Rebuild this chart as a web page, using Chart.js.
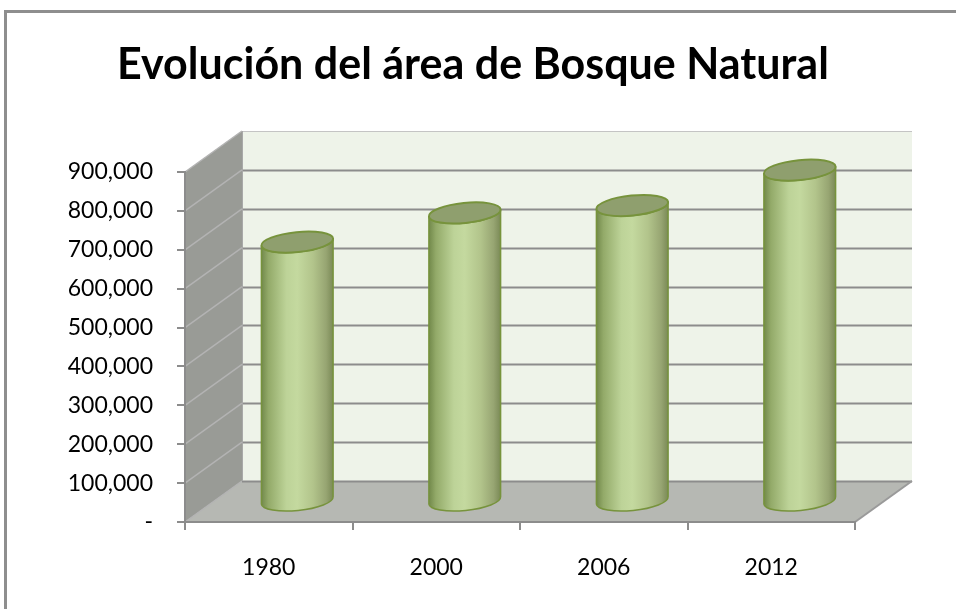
<!DOCTYPE html>
<html>
<head>
<meta charset="utf-8">
<title>Evolución del área de Bosque Natural</title>
<script src="https://cdn.jsdelivr.net/npm/chart.js@4.4.1/dist/chart.umd.min.js"></script>
<style>
  html, body { margin: 0; padding: 0; background: #fff; overflow: hidden; }
  canvas { display: block; }
</style>
</head>
<body>
<canvas id="areaChart" width="956" height="609"></canvas>
<script>
// --- data ---
const years = ['1980', '2000', '2006', '2012'];
const forestArea = [667000, 742000, 761000, 852000];
const yTickValues = [0, 100000, 200000, 300000, 400000, 500000, 600000, 700000, 800000, 900000];

// depth of the fake 3D box (pixels)
const DX = 57, DY = 41;
const GRID = '#8c8c8c';

// walls, floor and the outer frame, painted before the scales
const box3d = {
  id: 'box3d',
  beforeDraw(chart) {
    const ctx = chart.ctx;
    const { left, right } = chart.chartArea;
    const ys = chart.scales.y;
    const y0 = ys.getPixelForValue(ys.min);
    const yTop = ys.getPixelForValue(ys.max);

    ctx.save();
    ctx.fillStyle = '#fff';
    ctx.fillRect(0, 0, chart.width, chart.height);

    // outer frame (cut by the window on the right and bottom)
    ctx.strokeStyle = '#8e8e8e';
    ctx.lineWidth = 3;
    ctx.beginPath();
    ctx.moveTo(5.5, chart.height + 5);
    ctx.lineTo(5.5, 11.5);
    ctx.lineTo(chart.width + 5, 11.5);
    ctx.stroke();

    // back wall
    ctx.fillStyle = '#eef3e9';
    ctx.fillRect(left + DX, yTop - DY, right - left, y0 - yTop);

    // side wall
    ctx.fillStyle = '#999b96';
    ctx.beginPath();
    ctx.moveTo(left, yTop);
    ctx.lineTo(left + DX, yTop - DY);
    ctx.lineTo(left + DX, y0 - DY);
    ctx.lineTo(left, y0);
    ctx.closePath();
    ctx.fill();

    // floor
    ctx.fillStyle = '#b6b8b3';
    ctx.beginPath();
    ctx.moveTo(left, y0);
    ctx.lineTo(left + DX, y0 - DY);
    ctx.lineTo(right + DX, y0 - DY);
    ctx.lineTo(right, y0);
    ctx.closePath();
    ctx.fill();

    // gridlines on back wall + diagonals on side wall
    ys.ticks.forEach(t => {
      const yf = ys.getPixelForValue(t.value);
      ctx.lineWidth = 1.5;
      ctx.strokeStyle = '#b3b3b3';
      ctx.beginPath();
      ctx.moveTo(left, yf);
      ctx.lineTo(left + DX, yf - DY);
      ctx.stroke();
      if (t.value === ys.max) {
        ctx.strokeStyle = '#c4c4c4';
        ctx.lineWidth = 1;
      } else {
        ctx.strokeStyle = GRID;
        ctx.lineWidth = 2;
      }
      ctx.beginPath();
      ctx.moveTo(left + DX, Math.round(yf - DY) + 0.5);
      ctx.lineTo(right + DX, Math.round(yf - DY) + 0.5);
      ctx.stroke();
    });

    // back corner and floor right edge
    ctx.strokeStyle = '#a8a8a8';
    ctx.lineWidth = 1;
    ctx.beginPath();
    ctx.moveTo(left + DX + 0.5, yTop - DY);
    ctx.lineTo(left + DX + 0.5, y0 - DY);
    ctx.stroke();
    ctx.strokeStyle = '#9a9a9a';
    ctx.lineWidth = 2;
    ctx.beginPath();
    ctx.moveTo(right, y0);
    ctx.lineTo(right + DX, y0 - DY);
    ctx.stroke();
    ctx.restore();
  },

  // cylinders, placed at mid depth of the box
  afterDatasetsDraw(chart) {
    const ctx = chart.ctx;
    const meta = chart.getDatasetMeta(0);
    const rot = -0.1;
    meta.data.forEach(bar => {
      const cx = bar.x + DX / 2;
      const rx = bar.width / 2;
      const ry = 10;
      const yt = bar.y - DY / 2;
      const yb = bar.base - DY / 2;
      const ex = rx * Math.cos(rot), ey = rx * Math.sin(rot);

      ctx.save();
      const g = ctx.createLinearGradient(cx - rx, 0, cx + rx, 0);
      g.addColorStop(0, '#71884a');
      g.addColorStop(0.1, '#93aa69');
      g.addColorStop(0.35, '#bdd398');
      g.addColorStop(0.5, '#c4d99f');
      g.addColorStop(0.72, '#b2c48b');
      g.addColorStop(0.9, '#97a572');
      g.addColorStop(1, '#7a8956');

      ctx.beginPath();
      ctx.moveTo(cx - ex, yt - ey);
      ctx.lineTo(cx - ex, yb - ey);
      ctx.ellipse(cx, yb, rx, ry, rot, Math.PI, 0, true);
      ctx.lineTo(cx + ex, yt + ey);
      ctx.ellipse(cx, yt, rx, ry, rot, 0, Math.PI, false);
      ctx.closePath();
      ctx.fillStyle = g;
      ctx.fill();
      ctx.strokeStyle = '#77933c';
      ctx.lineWidth = 1.5;
      ctx.stroke();

      ctx.beginPath();
      ctx.ellipse(cx, yt, rx, ry, rot, 0, Math.PI * 2);
      ctx.fillStyle = '#8f9f6e';
      ctx.fill();
      ctx.strokeStyle = '#77933c';
      ctx.lineWidth = 2;
      ctx.stroke();
      ctx.restore();
    });
  }
};

const fmt = v => v === 0 ? '-' : v.toLocaleString('en-US');

const chart = new Chart(document.getElementById('areaChart'), {
  type: 'bar',
  data: {
    labels: years,
    datasets: [{
      label: 'Bosque Natural',
      data: forestArea,
      backgroundColor: 'rgba(0,0,0,0)',
      borderWidth: 0,
      categoryPercentage: 1,
      barPercentage: 0.43
    }]
  },
  options: {
    responsive: false,
    animation: false,
    devicePixelRatio: 1,
    layout: { padding: { left: 0, right: 10, top: 0, bottom: 0 } },
    plugins: {
      legend: { display: false },
      tooltip: { enabled: false },
      title: {
        display: true,
        text: 'Evolución del área de Bosque Natural',
        color: '#000',
        font: { family: 'Lato', size: 43, weight: 'bold', lineHeight: 1.2 },
        padding: { top: 39, bottom: 81.4 }
      }
    },
    scales: {
      x: {
        grid: { display: true, drawOnChartArea: false, drawTicks: true, tickLength: 8, color: GRID, lineWidth: 2, offset: true },
        border: { display: true, color: GRID, width: 2 },
        ticks: { color: '#000', padding: 24, font: { family: 'Lato', size: 23 } },
        afterFit(scale) { scale.height = 87; }
      },
      y: {
        min: 0,
        max: 900000,
        afterBuildTicks(scale) { scale.ticks = yTickValues.map(v => ({ value: v })); },
        grid: { display: true, drawOnChartArea: false, drawTicks: true, tickLength: 8, color: GRID, lineWidth: 2 },
        border: { display: true, color: GRID, width: 2 },
        ticks: { color: '#000', padding: 24, font: { family: 'Lato', size: 23 }, callback: v => fmt(v) },
        afterFit(scale) { scale.width = 185; }
      },
      // empty right-hand axis: keeps room for the box depth on the right
      yRight: {
        position: 'right',
        display: true,
        grid: { display: false },
        border: { display: false },
        ticks: { display: false },
        afterFit(scale) { scale.width = 91; }
      }
    }
  },
  plugins: [box3d]
});
</script>
</body>
</html>
